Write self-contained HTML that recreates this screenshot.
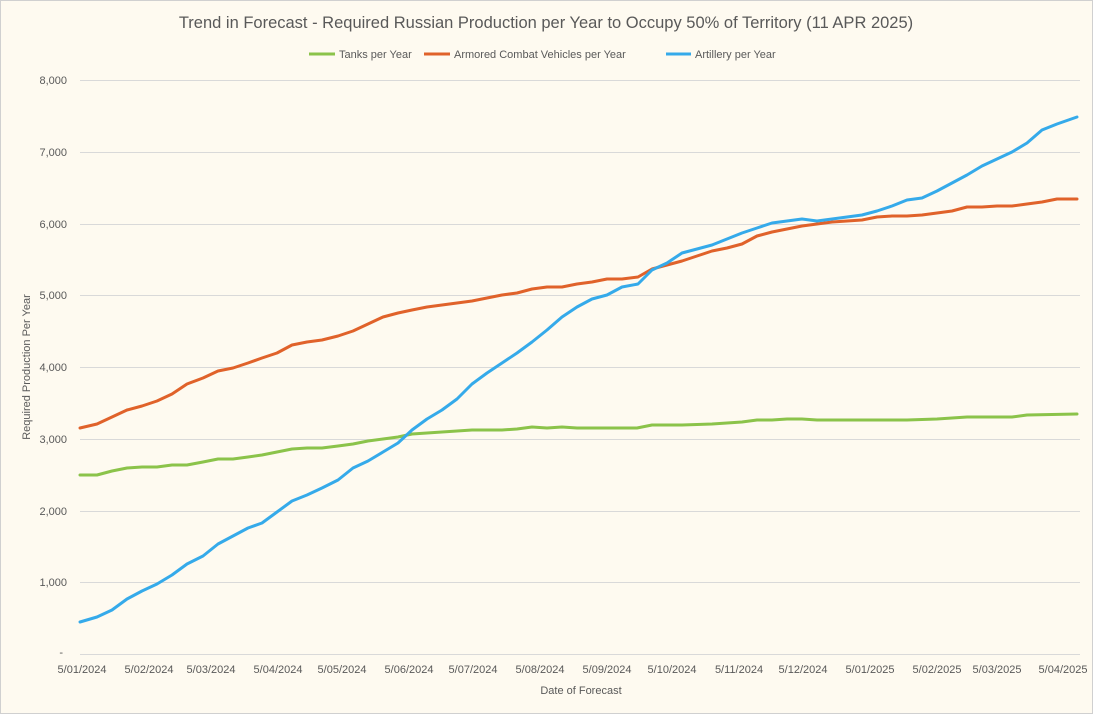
<!DOCTYPE html>
<html><head><style>
body{margin:0;background:#fff}
svg{display:block;font-family:"Liberation Sans",sans-serif}
</style></head><body>
<svg width="1093" height="714" viewBox="0 0 1093 714">
<rect x="0.5" y="0.5" width="1092" height="713" fill="#fefaf0" stroke="#d0d0d0"/>
<text x="546" y="28" text-anchor="middle" font-size="16.5" fill="#595959">Trend in Forecast - Required Russian Production per Year to Occupy 50% of Territory (11 APR 2025)</text>
<g font-size="11" fill="#595959">
<line x1="309" y1="54" x2="335" y2="54" stroke="#8bc34a" stroke-width="3"/><text x="339" y="58">Tanks per Year</text>
<line x1="424" y1="54" x2="450" y2="54" stroke="#e0622a" stroke-width="3"/><text x="454" y="58">Armored Combat Vehicles per Year</text>
<line x1="666" y1="54" x2="691" y2="54" stroke="#35aaea" stroke-width="3"/><text x="695" y="58">Artillery per Year</text>
</g>
<g stroke="#d9d9d9" stroke-width="1">
<line x1="80" x2="1080" y1="80.5" y2="80.5"/><line x1="80" x2="1080" y1="152.5" y2="152.5"/>
<line x1="80" x2="1080" y1="224.5" y2="224.5"/><line x1="80" x2="1080" y1="295.5" y2="295.5"/>
<line x1="80" x2="1080" y1="367.5" y2="367.5"/><line x1="80" x2="1080" y1="439.5" y2="439.5"/>
<line x1="80" x2="1080" y1="511.5" y2="511.5"/><line x1="80" x2="1080" y1="582.5" y2="582.5"/>
<line x1="80" x2="1080" y1="654.5" y2="654.5"/>
</g>
<g font-size="11" fill="#595959" text-anchor="end">
<text x="67" y="84">8,000</text><text x="67" y="156">7,000</text><text x="67" y="228">6,000</text>
<text x="67" y="299">5,000</text><text x="67" y="371">4,000</text><text x="67" y="443">3,000</text>
<text x="67" y="515">2,000</text><text x="67" y="586">1,000</text><text x="63" y="656">-</text>
</g>
<g font-size="11" fill="#595959" text-anchor="middle">
<text x="82" y="673">5/01/2024</text><text x="149" y="673">5/02/2024</text><text x="211" y="673">5/03/2024</text>
<text x="278" y="673">5/04/2024</text><text x="342" y="673">5/05/2024</text><text x="409" y="673">5/06/2024</text>
<text x="473" y="673">5/07/2024</text><text x="540" y="673">5/08/2024</text><text x="607" y="673">5/09/2024</text>
<text x="672" y="673">5/10/2024</text><text x="739" y="673">5/11/2024</text><text x="803" y="673">5/12/2024</text>
<text x="870" y="673">5/01/2025</text><text x="937" y="673">5/02/2025</text><text x="997" y="673">5/03/2025</text>
<text x="1063" y="673">5/04/2025</text>
<text x="581" y="694">Date of Forecast</text>
</g>
<text transform="translate(30,367) rotate(-90)" font-size="11" fill="#595959" text-anchor="middle">Required Production Per Year</text>
<g fill="none" stroke-width="3" stroke-linejoin="round" stroke-linecap="round">
<polyline stroke="#8bc34a" points="80,475 97,475 112,471 127,468 142,467 157,467 172,465 187,465 203,462 218,459 233,459 248,457 262,455 277,452 292,449 307,448 322,448 338,446 353,444 368,441 383,439 398,437 412,434 427,433 442,432 457,431 472,430 487,430 502,430 517,429 532,427 547,428 562,427 577,428 637,428 652,425 682,425 712,424 742,422 757,420 772,420 787,419 802,419 817,420 907,420 937,419 967,417 1012,417 1027,415 1077,414"/>
<polyline stroke="#e0622a" points="80,428 97,424 112,417 127,410 142,406 157,401 172,394 187,384 203,378 218,371 233,368 248,363 262,358 277,353 292,345 307,342 322,340 338,336 353,331 368,324 383,317 398,313 412,310 427,307 442,305 457,303 472,301 487,298 502,295 517,293 532,289 547,287 562,287 577,284 592,282 607,279 622,279 638,277 652,269 667,265 682,261 697,256 712,251 727,248 742,244 757,236 772,232 787,229 802,226 817,224 832,222 847,221 862,220 877,217 892,216 907,216 922,215 937,213 952,211 967,207 982,207 997,206 1012,206 1027,204 1042,202 1057,199 1077,199"/>
<polyline stroke="#35aaea" points="80,622 97,617 112,610 127,599 142,591 157,584 172,575 187,564 203,556 218,544 233,536 248,528 262,523 277,512 292,501 307,495 322,488 338,480 353,468 368,461 383,452 398,443 412,430 427,419 442,410 457,399 472,384 487,373 502,363 517,353 532,342 547,330 562,317 577,307 592,299 607,295 622,287 638,284 652,270 667,263 682,253 697,249 712,245 727,239 742,233 757,228 772,223 787,221 802,219 817,221 832,219 847,217 862,215 877,211 892,206 907,200 922,198 937,191 952,183 967,175 982,166 997,159 1012,152 1027,143 1042,130 1057,124 1077,117"/>
</g>
</svg>
</body></html>
